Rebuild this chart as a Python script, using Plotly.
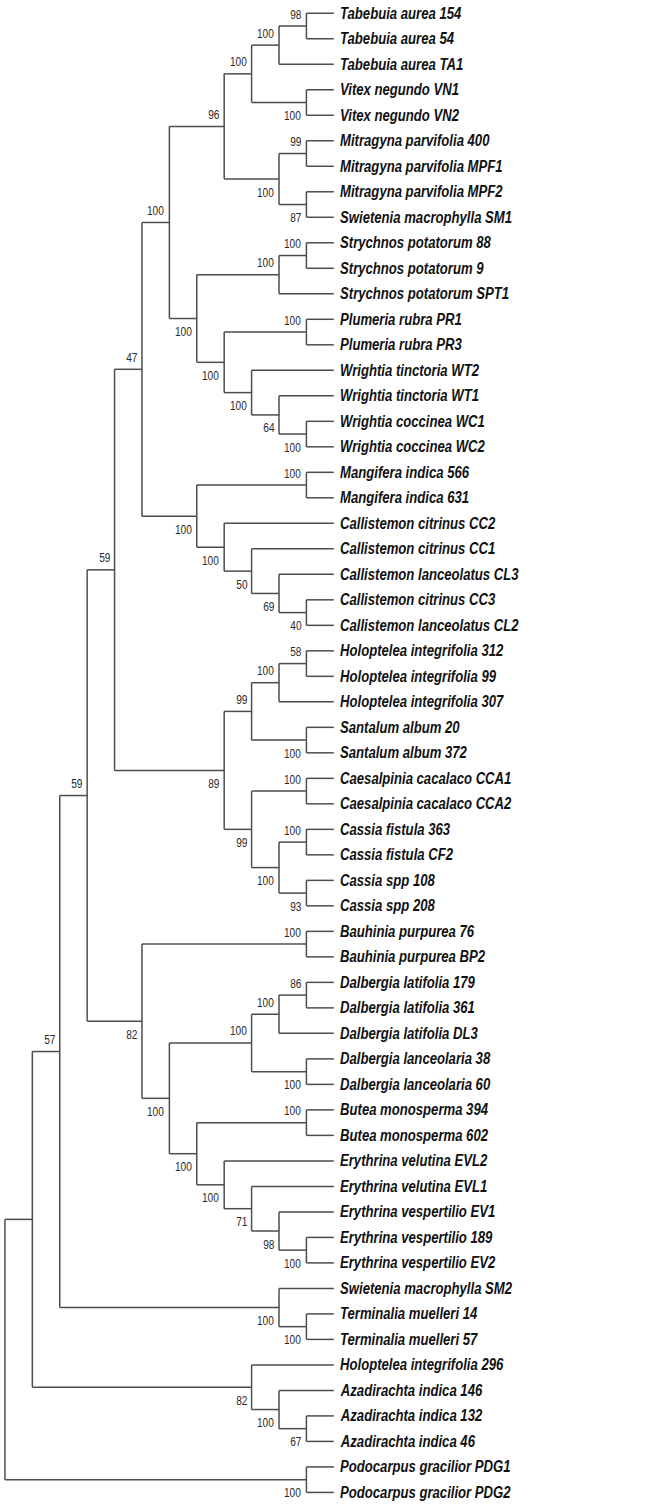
import plotly.graph_objects as go

# leaf taxa, top to bottom
TAXA = [
    "Tabebuia aurea 154", "Tabebuia aurea 54", "Tabebuia aurea TA1",
    "Vitex negundo VN1", "Vitex negundo VN2",
    "Mitragyna parvifolia 400", "Mitragyna parvifolia MPF1", "Mitragyna parvifolia MPF2",
    "Swietenia macrophylla SM1",
    "Strychnos potatorum 88", "Strychnos potatorum 9", "Strychnos potatorum SPT1",
    "Plumeria rubra PR1", "Plumeria rubra PR3",
    "Wrightia tinctoria WT2", "Wrightia tinctoria WT1", "Wrightia coccinea WC1", "Wrightia coccinea WC2",
    "Mangifera indica 566", "Mangifera indica 631",
    "Callistemon citrinus CC2", "Callistemon citrinus CC1", "Callistemon lanceolatus CL3",
    "Callistemon citrinus CC3", "Callistemon lanceolatus CL2",
    "Holoptelea integrifolia 312", "Holoptelea integrifolia 99", "Holoptelea integrifolia 307",
    "Santalum album 20", "Santalum album 372",
    "Caesalpinia cacalaco CCA1", "Caesalpinia cacalaco CCA2",
    "Cassia fistula 363", "Cassia fistula CF2", "Cassia spp 108", "Cassia spp 208",
    "Bauhinia purpurea 76", "Bauhinia purpurea BP2",
    "Dalbergia latifolia 179", "Dalbergia latifolia 361", "Dalbergia latifolia DL3",
    "Dalbergia lanceolaria 38", "Dalbergia lanceolaria 60",
    "Butea monosperma 394", "Butea monosperma 602",
    "Erythrina velutina EVL2", "Erythrina velutina EVL1",
    "Erythrina vespertilio EV1", "Erythrina vespertilio 189", "Erythrina vespertilio EV2",
    "Swietenia macrophylla SM2", "Terminalia muelleri 14", "Terminalia muelleri 57",
    "Holoptelea integrifolia 296",
    "Azadirachta indica 146", "Azadirachta indica 132", "Azadirachta indica 46",
    "Podocarpus gracilior PDG1", "Podocarpus gracilior PDG2",
]
LEAF_LEVEL = 12

# internal nodes: name -> (children, depth level, bootstrap)
# ints are leaf indices into TAXA, strings are other internal nodes
NODE_NAMES = [
    "tab2", "tab", "vit", "tabvit", "mit1", "mit2", "mit", "lam",
    "str2", "strn", "plu", "wc", "wt1", "wri", "apo", "gen", "ast",
    "man", "cal4", "cal3", "cal2", "cal", "mancal", "n47",
    "hol2", "hol", "san", "holsan", "cae", "cf", "cs", "cas", "caecas", "n89", "n59a",
    "bau", "dl2", "dl", "dla", "dal", "but", "ev2", "ev1", "evl1", "ery", "butery", "faba", "n82",
    "n59b", "ter", "swter", "n57", "aza2", "aza", "holaza", "n1", "pod", "root",
]
NODE_CHILDREN = [
    (0, 1), ("tab2", 2), (3, 4), ("tab", "vit"), (5, 6), (7, 8), ("mit1", "mit2"), ("tabvit", "mit"),
    (9, 10), ("str2", 11), (12, 13), (16, 17), (15, "wc"), (14, "wt1"), ("plu", "wri"), ("strn", "apo"), ("lam", "gen"),
    (18, 19), (23, 24), (22, "cal4"), (21, "cal3"), (20, "cal2"), ("man", "cal"), ("ast", "mancal"),
    (25, 26), ("hol2", 27), (28, 29), ("hol", "san"), (30, 31), (32, 33), (34, 35), ("cf", "cs"), ("cae", "cas"),
    ("holsan", "caecas"), ("n47", "n89"),
    (36, 37), (38, 39), ("dl2", 40), (41, 42), ("dl", "dla"), (43, 44), (48, 49), (47, "ev2"), (46, "ev1"),
    (45, "evl1"), ("but", "ery"), ("dal", "butery"), ("bau", "faba"),
    ("n59a", "n82"), (51, 52), (50, "ter"), ("n59b", "swter"), (55, 56), (54, "aza2"), (53, "aza"),
    ("n57", "holaza"), (57, 58), ("n1", "pod"),
]
NODE_LEVEL = [
    11, 10, 11, 9, 11, 11, 10, 8,
    11, 10, 11, 11, 10, 9, 8, 7, 6,
    11, 11, 10, 9, 8, 7, 5,
    11, 10, 11, 9, 11, 11, 11, 10, 9, 8, 4,
    11, 11, 10, 11, 9, 11, 11, 10, 9, 8, 7, 6, 5,
    3, 11, 10, 2, 11, 10, 9, 1, 11, 0,
]
NODE_SUPPORT = [
    98, 100, 100, 100, 99, 87, 100, 96,
    100, 100, 100, 100, 64, 100, 100, 100, 100,
    100, 40, 69, 50, 100, 100, 47,
    58, 100, 100, 99, 100, 100, 93, 100, 99, 89, 59,
    100, 86, 100, 100, 100, 100, 100, 98, 71, 100, 100, 100, 82,
    59, 100, 100, 57, 67, 100, 82, None, 100, None,
]

nodes = {n: (c, l, s) for n, c, l, s in zip(NODE_NAMES, NODE_CHILDREN, NODE_LEVEL, NODE_SUPPORT)}
pos = {}


def place(key):
    if isinstance(key, int):
        return LEAF_LEVEL, float(key)
    if key in pos:
        return pos[key]
    children, level, _ = nodes[key]
    ys = [place(c)[1] for c in children]
    pos[key] = (level, (ys[0] + ys[-1]) / 2)
    return pos[key]


place("root")

xs, ys = [], []
for name in NODE_NAMES:
    children, level, _ = nodes[name]
    cy = [place(c)[1] for c in children]
    xs += [level, level, None]
    ys += [cy[0], cy[-1], None]
    for c in children:
        cx_, cy_ = place(c)
        xs += [level, cx_, None]
        ys += [cy_, cy_, None]

fig = go.Figure()
fig.add_trace(go.Scatter(x=xs, y=ys, mode="lines", line=dict(color="#4d4d4d", width=1.5),
                         hoverinfo="skip", showlegend=False))

FONT = "Liberation Sans, Arial"
annotations = []
for i, taxon in enumerate(TAXA):
    annotations.append(dict(x=LEAF_LEVEL, y=i, text=taxon, showarrow=False, xanchor="left", yanchor="middle",
                            xshift=4, font=dict(family=FONT, size=16, color="#111111", weight="bold", style="italic")))

# bootstrap labels: above the branch for first child, below for second
for name in NODE_NAMES:
    children, _, _ = nodes[name]
    for k, c in enumerate(children):
        if isinstance(c, int):
            continue
        support = nodes[c][2]
        if support is None:
            continue
        cx_, cy_ = place(c)
        annotations.append(dict(x=cx_, y=cy_, text=str(support), showarrow=False, xanchor="right", yanchor="middle",
                                xshift=-3, yshift=12 if k == 0 else -13,
                                font=dict(family=FONT, size=13, color="#2b2b2b")))

fig.update_layout(
    width=672, height=1509,
    margin=dict(l=0, r=0, t=0, b=0),
    plot_bgcolor="white", paper_bgcolor="white",
    annotations=annotations,
    xaxis=dict(range=[-0.18, 24.34], visible=False, fixedrange=True),
    yaxis=dict(range=[58.65, -0.52], visible=False, fixedrange=True),
)

# no page margin; the original labels are set in a narrow face, so squeeze text horizontally
n_taxa = len(TAXA)
post = """
document.body.style.margin = '0';
document.querySelectorAll('.annotation').forEach(function (g) {
    var leaf = parseInt(g.getAttribute('data-index')) < %d;
    var t = g.querySelector('text');
    if (!t) return;
    t.style.transformBox = 'fill-box';
    t.style.transformOrigin = (leaf ? 'left' : 'right') + ' center';
    t.style.transform = leaf ? 'scaleX(0.82)' : 'scaleX(0.78)';
});
""" % n_taxa

fig.write_html("out.html", post_script=post, config={"displayModeBar": False})
